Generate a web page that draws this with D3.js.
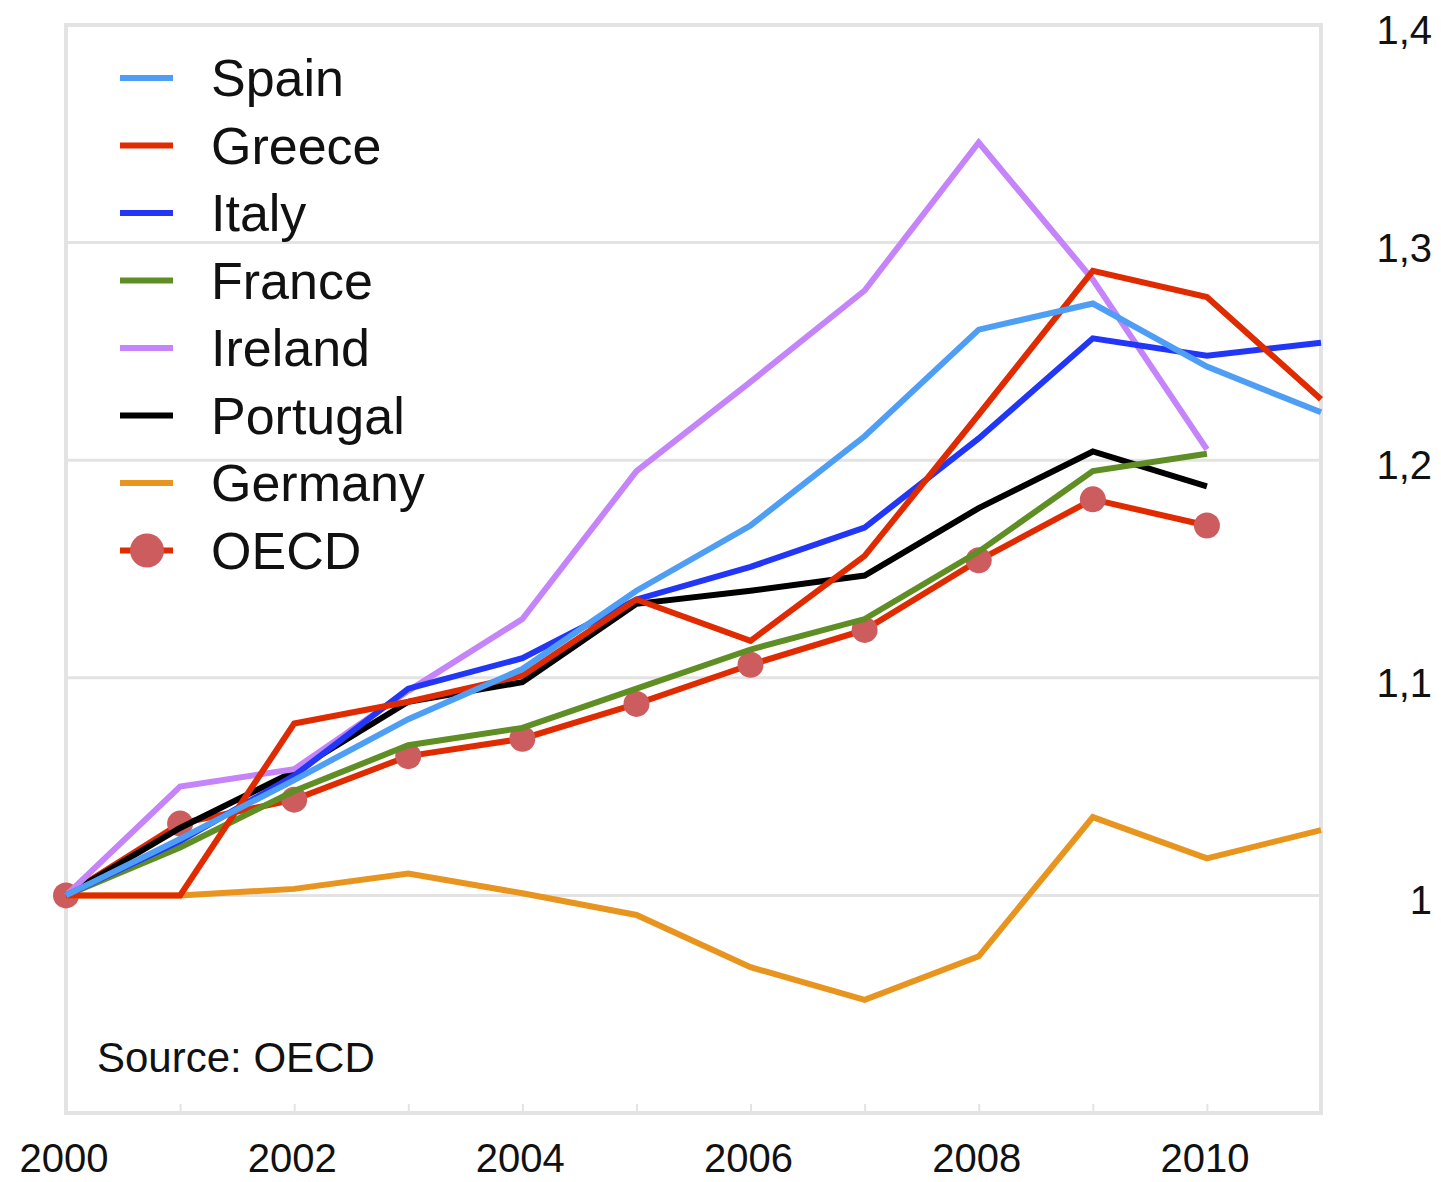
<!DOCTYPE html>
<html>
<head>
<meta charset="utf-8">
<script src="https://cdn.jsdelivr.net/npm/d3@7"></script>
<style>
  body { margin: 0; background: #fff; }
  text { font-family: "Liberation Sans", Arial, sans-serif; fill: #111; }
</style>
</head>
<body>
<svg width="1441" height="1182"></svg>
<script>
const years = [2000, 2001, 2002, 2003, 2004, 2005, 2006, 2007, 2008, 2009, 2010, 2011];
const spain    = [1.0, 1.026, 1.053, 1.081, 1.104, 1.140, 1.170, 1.211, 1.260, 1.272, 1.243, 1.222];
const greece   = [1.0, 1.0, 1.079, 1.089, 1.101, 1.136, 1.117, 1.156, 1.221, 1.287, 1.275, 1.228];
const italy    = [1.0, 1.025, 1.055, 1.095, 1.109, 1.136, 1.151, 1.169, 1.210, 1.256, 1.248, 1.254];
const france   = [1.0, 1.022, 1.048, 1.069, 1.077, 1.095, 1.113, 1.127, 1.158, 1.195, 1.203];
const ireland  = [1.0, 1.050, 1.058, 1.094, 1.127, 1.195, 1.236, 1.278, 1.346, 1.283, 1.205];
const portugal = [1.0, 1.031, 1.057, 1.089, 1.098, 1.134, 1.140, 1.147, 1.178, 1.204, 1.188];
const germany  = [1.0, 1.0, 1.003, 1.010, 1.001, 0.991, 0.967, 0.952, 0.972, 1.036, 1.017, 1.030];
const oecd     = [1.0, 1.033, 1.044, 1.064, 1.072, 1.088, 1.106, 1.122, 1.154, 1.182, 1.170];

const yTicks = [1.0, 1.1, 1.2, 1.3, 1.4];
const yTickLabels = ["1", "1,1", "1,2", "1,3", "1,4"];
const xLabelYears = [2000, 2002, 2004, 2006, 2008, 2010];

const series = [
  {name: "Spain", values: spain, color: "#4f9ef5"},
  {name: "Greece", values: greece, color: "#e02a00"},
  {name: "Italy", values: italy, color: "#2236f7"},
  {name: "France", values: france, color: "#5f8f24"},
  {name: "Ireland", values: ireland, color: "#c584fa"},
  {name: "Portugal", values: portugal, color: "#000000"},
  {name: "Germany", values: germany, color: "#e8951f"},
  {name: "OECD", values: oecd, color: "#e02a00", marker: "#cc5c5e"}
];

const svg = d3.select("svg");
const plotLeft = 66, plotRight = 1321, plotTop = 25, plotBottom = 1113;

const x = d3.scaleLinear().domain([2000, 2011]).range([plotLeft, plotRight]);
const y = d3.scaleLinear().domain([0.9, 1.4]).range([plotBottom, plotTop]);

// grid lines
svg.append("g")
  .selectAll("line")
  .data(yTicks)
  .enter().append("line")
  .attr("x1", plotLeft).attr("x2", plotRight)
  .attr("y1", d => y(d)).attr("y2", d => y(d))
  .attr("stroke", "#e3e3e3")
  .attr("stroke-width", 3);

// frame
svg.append("rect")
  .attr("x", plotLeft).attr("y", plotTop)
  .attr("width", plotRight - plotLeft).attr("height", plotBottom - plotTop)
  .attr("fill", "none")
  .attr("stroke", "#e3e3e3")
  .attr("stroke-width", 4);

// bottom axis: ticks inside, labels every 2 years
const xAxis = svg.append("g")
  .attr("transform", "translate(0," + plotBottom + ")")
  .call(d3.axisBottom(x).tickValues(years.slice(0, 11)).tickSize(-9).tickFormat(""));
xAxis.select(".domain").remove();
xAxis.selectAll("line").attr("stroke", "#e3e3e3").attr("stroke-width", 2);

svg.append("g")
  .selectAll("text")
  .data(xLabelYears)
  .enter().append("text")
  .attr("x", d => x(d) - 2)
  .attr("y", 1172)
  .attr("text-anchor", "middle")
  .style("font-size", "40px")
  .text(d => d);

// right axis labels
svg.append("g")
  .selectAll("text")
  .data(yTicks)
  .enter().append("text")
  .attr("x", 1432)
  .attr("y", d => y(d) + 19)
  .attr("text-anchor", "end")
  .style("font-size", "40px")
  .text((d, i) => yTickLabels[i]);

const line = d3.line()
  .x((d, i) => x(years[i]))
  .y(d => y(d));

// draw in reverse legend order so Spain is on top
const lines = svg.append("g");
series.slice().reverse().forEach(s => {
  lines.append("path")
    .datum(s.values)
    .attr("fill", "none")
    .attr("stroke", s.color)
    .attr("stroke-width", 6)
    .attr("stroke-linejoin", "miter")
    .attr("d", line);
  if (s.marker) {
    lines.selectAll(".dot")
      .data(s.values)
      .enter().append("circle")
      .attr("class", "dot")
      .attr("cx", (d, i) => x(years[i]))
      .attr("cy", d => y(d))
      .attr("r", 13)
      .attr("fill", s.marker);
  }
});

// legend
const legend = svg.append("g");
series.forEach((s, i) => {
  const ly = 78 + i * 67.5;
  legend.append("line")
    .attr("x1", 120).attr("x2", 173)
    .attr("y1", ly).attr("y2", ly)
    .attr("stroke", s.color)
    .attr("stroke-width", 6);
  if (s.marker) {
    legend.append("circle")
      .attr("cx", 147).attr("cy", ly)
      .attr("r", 17)
      .attr("fill", s.marker);
  }
  legend.append("text")
    .attr("x", 211)
    .attr("y", ly + 18)
    .style("font-size", "52px")
    .text(s.name);
});

svg.append("text")
  .attr("x", 97)
  .attr("y", 1072)
  .style("font-size", "42px")
  .text("Source: OECD");
</script>
</body>
</html>
